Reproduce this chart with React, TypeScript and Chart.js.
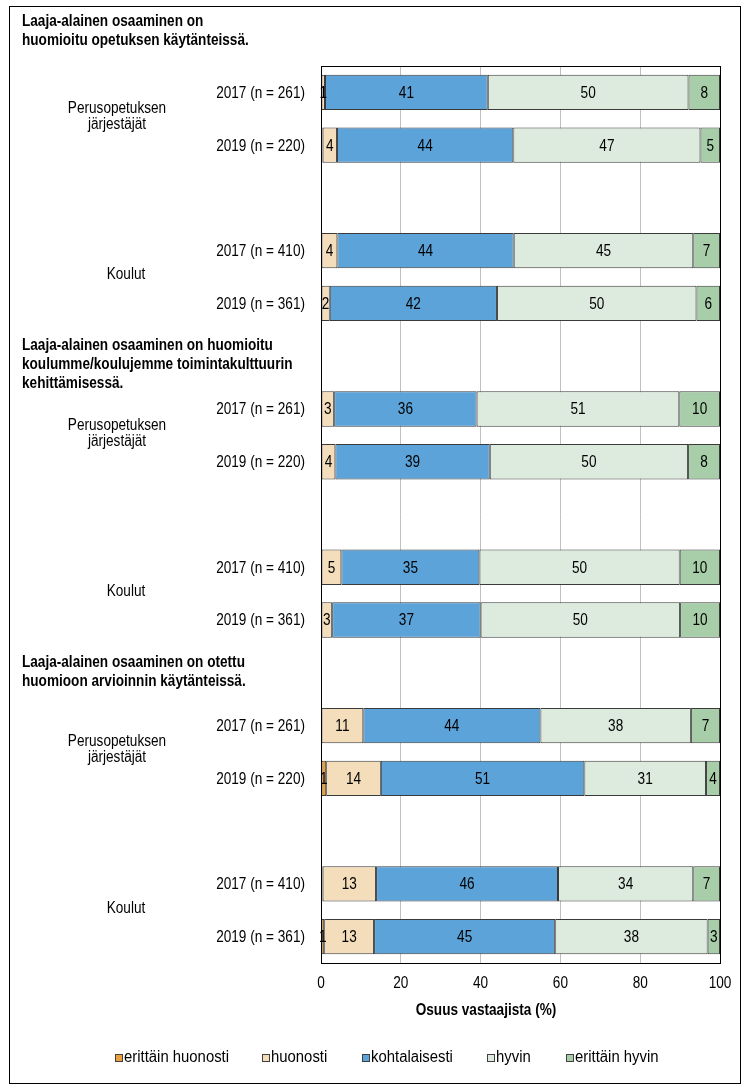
import React, { useEffect, useRef } from 'react';
import { Chart, registerables } from 'chart.js';

Chart.register(...registerables);

// Row labels of the category axis; empty strings are spacer rows between groups.
const rowLabels = [
  '2017 (n = 261)', '2019 (n = 220)', '', '2017 (n = 410)', '2019 (n = 361)', '',
  '2017 (n = 261)', '2019 (n = 220)', '', '2017 (n = 410)', '2019 (n = 361)', '',
  '2017 (n = 261)', '2019 (n = 220)', '', '2017 (n = 410)', '2019 (n = 361)',
];

const seriesNames = ['erittäin huonosti', 'huonosti', 'kohtalaisesti', 'hyvin', 'erittäin hyvin'];
const seriesColors = ['#E9A23B', '#F4DDBB', '#5CA3D9', '#DDEBDE', '#A7CEA8'];

// Shares of respondents (%) per answer option.
const erittainHuonosti = [0, 0.4, null, 0, 0, null, 0, 0, null, 0, 0, null, 0, 1.3, null, 0.4, 0.8];
const huonosti = [1.0, 3.6, null, 4.1, 2.2, null, 3.3, 3.6, null, 5.1, 2.8, null, 10.6, 13.7, null, 13.4, 12.5];
const kohtalaisesti = [40.8, 44.2, null, 44.2, 41.9, null, 35.7, 38.7, null, 34.6, 37.2, null, 44.4, 51.0, null, 45.6, 45.4];
const hyvin = [50.3, 46.9, null, 45.0, 50.0, null, 50.8, 49.7, null, 50.2, 50.0, null, 37.7, 30.5, null, 33.9, 38.2];
const erittainHyvin = [7.9, 4.9, null, 6.7, 5.9, null, 10.2, 8.0, null, 10.1, 10.0, null, 7.3, 3.5, null, 6.7, 3.1];

const xTicks = [0, 20, 40, 60, 80, 100];

const sectionHeadings = [
  ['Laaja-alainen osaaminen on', 'huomioitu opetuksen käytänteissä.'],
  ['Laaja-alainen osaaminen on huomioitu', 'koulumme/koulujemme toimintakulttuurin', 'kehittämisessä.'],
  ['Laaja-alainen osaaminen on otettu', 'huomioon arvioinnin käytänteissä.'],
];
const headingTops = [22, 346, 663];

const groupNames = [['Perusopetuksen', 'järjestäjät'], ['Koulut']];
// [first row, second row, group name index]
const groupRows = [[0, 1, 0], [3, 4, 1], [6, 7, 0], [9, 10, 1], [12, 13, 0], [15, 16, 1]];
const groupCenterX = [117, 126];

const xTitle = 'Osuus vastaajista (%)';
const legendX = [115, 262, 362, 487, 566];

const FONT = '"Liberation Sans", Arial, sans-serif';
const NARROW_X = 0.85;

// Draws text squeezed horizontally, giving an Arial-Narrow-like face.
function narrowText(ctx: CanvasRenderingContext2D, text: string, x: number, y: number, sx: number) {
  ctx.save();
  ctx.translate(x, y);
  ctx.scale(sx, 1);
  ctx.fillText(text, 0, 0);
  ctx.restore();
}

const annotations = {
  id: 'annotations',
  beforeDraw(chart: any) {
    const { ctx, width, height } = chart;
    ctx.save();
    ctx.fillStyle = '#fff';
    ctx.fillRect(0, 0, width, height);
    ctx.restore();
  },
  afterDraw(chart: any) {
    const { ctx, chartArea } = chart;
    const yScale = chart.scales.y;
    const xScale = chart.scales.x;
    ctx.save();
    ctx.fillStyle = '#000';
    ctx.textBaseline = 'middle';

    // value labels inside the bar segments
    ctx.font = `16px ${FONT}`;
    ctx.textAlign = 'center';
    chart.data.datasets.forEach((ds: any, di: number) => {
      const meta = chart.getDatasetMeta(di);
      meta.data.forEach((bar: any, i: number) => {
        const v = ds.data[i];
        if (v == null || Math.round(v) === 0) return;
        const p = bar.getProps(['x', 'y', 'base'], true);
        narrowText(ctx, String(Math.round(v)), (p.x + p.base) / 2, p.y + 1, NARROW_X);
      });
    });

    // category tick labels
    ctx.textAlign = 'right';
    chart.data.labels.forEach((lab: string, i: number) => {
      if (!lab) return;
      narrowText(ctx, lab, chartArea.left - 16, yScale.getPixelForValue(i) + 1, NARROW_X);
    });

    // value axis tick labels
    ctx.textAlign = 'center';
    xTicks.forEach((t) => {
      narrowText(ctx, String(t), xScale.getPixelForValue(t), chartArea.bottom + 21, NARROW_X);
    });

    // plot frame
    ctx.strokeStyle = '#000';
    ctx.lineWidth = 1;
    ctx.strokeRect(
      Math.round(chartArea.left) + 0.5,
      Math.round(chartArea.top) + 0.5,
      Math.round(chartArea.right - chartArea.left),
      Math.round(chartArea.bottom - chartArea.top)
    );

    // outer border
    ctx.strokeRect(9.5, 6.5, 731, 1077);

    // section headings
    ctx.font = `bold 16px ${FONT}`;
    ctx.textAlign = 'left';
    sectionHeadings.forEach((lines, si) => {
      lines.forEach((line, li) => {
        narrowText(ctx, line, 22, headingTops[si] + li * 19, 0.85);
      });
    });

    // group labels
    ctx.font = `16px ${FONT}`;
    ctx.textAlign = 'center';
    groupRows.forEach(([a, b, g]) => {
      const mid = (yScale.getPixelForValue(a) + yScale.getPixelForValue(b)) / 2 - 2;
      const lines = groupNames[g];
      lines.forEach((line, li) => {
        const y = mid + (li - (lines.length - 1) / 2) * 16;
        narrowText(ctx, line, groupCenterX[g], y, NARROW_X);
      });
    });

    // axis title
    ctx.font = `bold 16px ${FONT}`;
    narrowText(ctx, xTitle, 486, 1011, NARROW_X);

    // legend
    ctx.font = `16px ${FONT}`;
    ctx.textAlign = 'left';
    chart.data.datasets.forEach((ds: any, di: number) => {
      const x = legendX[di];
      ctx.fillStyle = ds.backgroundColor;
      ctx.fillRect(x, 1054, 7, 7);
      ctx.strokeStyle = '#404040';
      ctx.strokeRect(x + 0.5, 1054.5, 7, 7);
      ctx.fillStyle = '#000';
      narrowText(ctx, ds.label, x + 9, 1058, 0.93);
    });

    ctx.restore();
  },
};

export default function App() {
  const canvasRef = useRef<HTMLCanvasElement | null>(null);

  useEffect(() => {
    const canvas = canvasRef.current;
    if (!canvas) return;
    const seriesValues = [erittainHuonosti, huonosti, kohtalaisesti, hyvin, erittainHyvin];
    const chart = new Chart(canvas, {
      type: 'bar',
      data: {
        labels: rowLabels,
        datasets: seriesValues.map((values, i) => ({
          label: seriesNames[i],
          data: values,
          backgroundColor: seriesColors[i],
          borderColor: '#3a3a3a',
          borderWidth: 1,
          borderSkipped: false,
          barPercentage: 0.67,
          categoryPercentage: 1,
        })),
      },
      options: {
        indexAxis: 'y',
        responsive: false,
        maintainAspectRatio: false,
        animation: false,
        devicePixelRatio: 1,
        font: { family: FONT },
        layout: { padding: { top: 66, right: 22, left: 0, bottom: 0 } },
        plugins: { legend: { display: false }, tooltip: { enabled: false } },
        scales: {
          x: {
            stacked: true,
            min: 0,
            max: 100,
            ticks: { stepSize: 20, display: false },
            grid: { color: '#C0C0C0', drawTicks: false, lineWidth: 1 },
            border: { display: false },
            afterFit: (s: any) => { s.height = 122; },
          },
          y: {
            stacked: true,
            ticks: { display: false, autoSkip: false },
            grid: { display: false, drawTicks: false },
            border: { display: false },
            afterFit: (s: any) => { s.width = 321; },
          },
        },
      } as any,
      plugins: [annotations],
    });
    return () => chart.destroy();
  }, []);

  return (
    <div style={{ position: 'absolute', left: 0, top: 0, width: 742, height: 1085 }}>
      <canvas ref={canvasRef} width={742} height={1085} style={{ display: 'block' }} />
    </div>
  );
}
